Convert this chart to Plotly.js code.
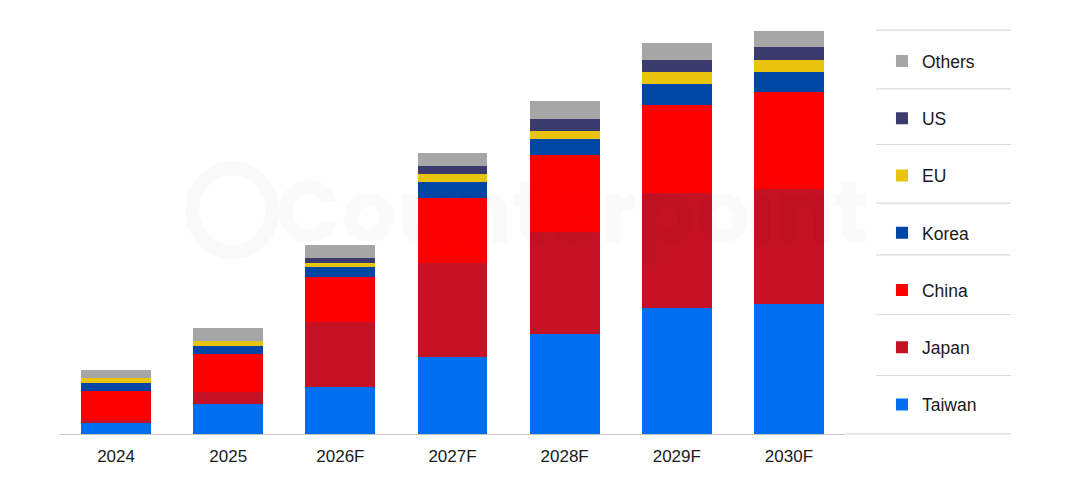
<!DOCTYPE html>
<html>
<head>
<meta charset="utf-8">
<script src="https://cdn.plot.ly/plotly-3.0.1.min.js"></script>
<style>
  html, body { margin: 0; padding: 0; background: #fff; }
  #chart { width: 1080px; height: 494px; }
</style>
</head>
<body>
<div id="chart"></div>
<script>
// categories
var years = ['2024', '2025', '2026F', '2027F', '2028F', '2029F', '2030F'];

// series values (arbitrary units)
var taiwan = [11.1, 29.8, 46.8, 77.1, 99.8, 126.5, 130.5];
var japan  = [3.4, 12.0, 65.3, 94.4, 102.3, 114.6, 114.3];
var china  = [29.0, 38.7, 45.0, 64.6, 76.7, 88.4, 97.0];
var korea  = [8.0, 8.0, 10.0, 16.0, 16.3, 20.3, 20.3];
var eu     = [4.6, 4.3, 4.4, 8.0, 8.4, 12.3, 12.4];
var us     = [0.4, 0.4, 4.6, 8.4, 12.0, 12.4, 12.3];
var others = [8.0, 12.7, 12.7, 13.0, 17.3, 16.3, 16.3];

var series = [
  { name: 'Taiwan', y: taiwan, color: '#006ef0' },
  { name: 'Japan',  y: japan,  color: '#c41224' },
  { name: 'China',  y: china,  color: '#ff0000' },
  { name: 'Korea',  y: korea,  color: '#0046a5' },
  { name: 'EU',     y: eu,     color: '#e8c50c' },
  { name: 'US',     y: us,     color: '#3c3b6e' },
  { name: 'Others', y: others, color: '#a6a6a6' }
];

var data = series.map(function (s, i) {
  return {
    type: 'bar',
    name: s.name,
    legendgroup: s.name,
    legendrank: series.length - i,
    x: years,
    y: s.y,
    marker: { color: s.color, line: { width: 0 } },
    hoverinfo: 'x+y+name'
  };
});

// legend separator lines, in pixel rows of the picture
var sepRows = [30, 88.7, 144.3, 203, 254.7, 314.3, 375.3, 433.7];
var plotTop = 13.8, plotH = 420, plotL = 59.6, plotW = 785.4;
function py(p) { return (plotTop + plotH - p) / plotH; }
function px(p) { return (p - plotL) / plotW; }

var shapes = sepRows.map(function (r, i) {
  return {
    type: 'line', xref: 'paper', yref: 'paper',
    x0: px(i === sepRows.length - 1 ? 846 : 876), x1: px(1011),
    y0: py(r), y1: py(r),
    line: { color: '#dadada', width: 1.2 }
  };
});

var layout = {
  width: 1080,
  height: 494,
  margin: { l: plotL, r: 1080 - plotL - plotW, t: plotTop, b: 494 - plotTop - plotH },
  paper_bgcolor: '#ffffff',
  plot_bgcolor: '#ffffff',
  barmode: 'stack',
  bargap: 0.376,
  font: { family: 'Liberation Sans, Arial, sans-serif', size: 17, color: '#1a1a1a' },
  xaxis: {
    showline: true,
    linecolor: '#c4c4c4',
    linewidth: 1,
    showgrid: false,
    ticks: '',
    tickfont: { size: 17, color: '#1a1a1a' },
    ticklabelstandoff: 7,
    fixedrange: true
  },
  yaxis: {
    range: [0, plotH],
    visible: false,
    showgrid: false,
    zeroline: false,
    fixedrange: true
  },
  showlegend: true,
  legend: {
    traceorder: 'grouped',
    tracegroupgap: 31.5,
    x: px(882),
    xanchor: 'left',
    y: py(43),
    yanchor: 'top',
    font: { size: 17.5, color: '#1a1a1a' },
    bgcolor: 'rgba(0,0,0,0)'
  },
  shapes: shapes.concat([{
    type: 'circle', xref: 'paper', yref: 'paper',
    x0: px(192), x1: px(272), y0: py(252), y1: py(168),
    line: { color: 'rgba(0,0,0,0.022)', width: 14 }
  }]),
  annotations: [{
    text: '<b>Counterpoint</b>',
    xref: 'paper', yref: 'paper',
    x: px(572), y: py(212),
    xanchor: 'center', yanchor: 'middle',
    showarrow: false,
    font: { size: 86, color: 'rgba(0,0,0,0.02)', family: 'Poppins, Inter, Liberation Sans, sans-serif' }
  }]
};

Plotly.newPlot('chart', data, layout, { displayModeBar: false, staticPlot: true });
</script>
</body>
</html>
